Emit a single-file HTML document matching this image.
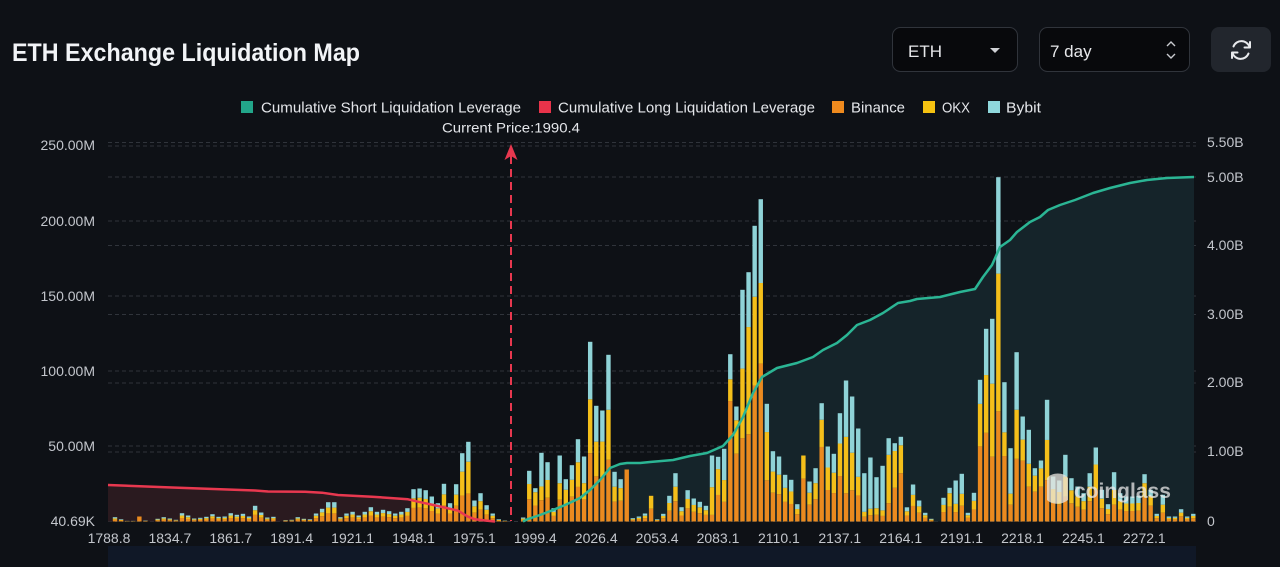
<!DOCTYPE html>
<html><head><meta charset="utf-8">
<style>
html,body{margin:0;padding:0;background:#0e1116;width:1280px;height:567px;overflow:hidden;}
svg{display:block;font-family:"Liberation Sans",sans-serif;}
</style></head><body>
<svg id="s" xmlns="http://www.w3.org/2000/svg" width="1280" height="567" viewBox="0 0 1280 567">
<rect width="1280" height="567" fill="#0e1116"/>
<!-- title -->
<text x="12" y="61" font-size="25" font-weight="bold" fill="#f2f4f7" textLength="348" lengthAdjust="spacingAndGlyphs">ETH Exchange Liquidation Map</text>
<!-- controls -->
<rect x="892.5" y="27.5" width="125" height="44" rx="8" fill="#08090c" stroke="#30343b"/>
<text x="908" y="57" font-size="17" fill="#e6e7ea">ETH</text>
<path d="M990,48 L1000,48 L995,53 Z" fill="#d0d2d6"/>
<rect x="1039.5" y="27.5" width="150" height="44" rx="8" fill="#08090c" stroke="#30343b"/>
<text x="1050" y="57" font-size="17" fill="#e6e7ea">7 day</text>
<path d="M1167,46 L1171,42 L1175,46 M1167,54 L1171,58 L1175,54" fill="none" stroke="#c8cacf" stroke-width="1.4"/>
<rect x="1211" y="27" width="60" height="45" rx="8" fill="#22262d"/>
<g fill="none" stroke="#e8e9ec" stroke-width="2" stroke-linecap="round" stroke-linejoin="round">
<path d="M1249.5,47 A8.5,8.5 0 0 0 1233.5,46.5"/>
<path d="M1232.5,53 A8.5,8.5 0 0 0 1248.5,53.5"/>
<path d="M1250,42 L1250,47.5 L1244.5,47.5"/>
<path d="M1232,58 L1232,52.5 L1237.5,52.5"/>
</g>
<!-- legend -->
<g font-size="15" fill="#e4e6ea">
<rect x="241" y="101" width="12" height="12" fill="#22a68a"/>
<text x="261" y="112.5" textLength="260" lengthAdjust="spacingAndGlyphs">Cumulative Short Liquidation Leverage</text>
<rect x="539" y="101" width="12" height="12" fill="#e8334a"/>
<text x="558" y="112.5" textLength="257" lengthAdjust="spacingAndGlyphs">Cumulative Long Liquidation Leverage</text>
<rect x="832" y="101" width="12" height="12" fill="#ee8a1e"/>
<text x="851" y="112.5" textLength="54" lengthAdjust="spacingAndGlyphs">Binance</text>
<rect x="923" y="101" width="12" height="12" fill="#f5c211"/>
<text x="942" y="112.5" textLength="28" lengthAdjust="spacingAndGlyphs">OKX</text>
<rect x="988" y="101" width="12" height="12" fill="#8fd8dc"/>
<text x="1006" y="112.5" textLength="35" lengthAdjust="spacingAndGlyphs">Bybit</text>
</g>
<text x="442" y="132.5" font-size="14" fill="#e4e6ea" textLength="138" lengthAdjust="spacingAndGlyphs">Current Price:1990.4</text>
<!-- grid -->
<g stroke="#30343b" stroke-width="1" stroke-dasharray="4 3" fill="none">
<line x1="108" y1="146" x2="1196" y2="146"/>
<line x1="108" y1="221" x2="1196" y2="221"/>
<line x1="108" y1="296" x2="1196" y2="296"/>
<line x1="108" y1="371" x2="1196" y2="371"/>
<line x1="108" y1="446" x2="1196" y2="446"/>
<line x1="108" y1="142.5" x2="1196" y2="142.5"/>
<line x1="108" y1="177" x2="1196" y2="177"/>
<line x1="108" y1="245.5" x2="1196" y2="245.5"/>
<line x1="108" y1="314.5" x2="1196" y2="314.5"/>
<line x1="108" y1="383" x2="1196" y2="383"/>
<line x1="108" y1="452" x2="1196" y2="452"/>
<line x1="108" y1="521.5" x2="1196" y2="521.5"/>
</g>
<!-- y labels left -->
<g font-size="14" fill="#c3c6cc" text-anchor="end">
<text x="95" y="150">250.00M</text>
<text x="95" y="226">200.00M</text>
<text x="95" y="301">150.00M</text>
<text x="95" y="376">100.00M</text>
<text x="95" y="451">50.00M</text>
<text x="95" y="526">40.69K</text>
</g>
<g font-size="14" fill="#c3c6cc">
<text x="1207" y="147">5.50B</text>
<text x="1207" y="182">5.00B</text>
<text x="1207" y="250">4.00B</text>
<text x="1207" y="319">3.00B</text>
<text x="1207" y="387">2.00B</text>
<text x="1207" y="456">1.00B</text>
<text x="1207" y="526">0</text>
</g>
<!-- fills -->
<path fill="#2a1a1f" d="M108,521.5 L108,485 L172,487.5 L255,490.5 L268,491.5 L305,491.7 L322,492.7 L338,495 L372,496.7 L408,499.3 L418,501.7 L438,506 L458,510.7 L468,516.7 L475,519.3 L485,520.5 L495,521.5 Z"/>
<path fill="#15242a" d="M523,521.5 L528,519 L540,515 L553,510 L565,505 L580,498 L590,490 L600,480 L610,468 L620,464 L627,463 L640,463 L650,462 L673,460 L690,456 L707,453 L723,446 L733,435 L743,417 L753,393 L762,377 L777,368 L797,363 L813,357 L823,350 L837,343 L847,335 L857,325 L870,320 L883,313 L898,303 L910,301 L917,299 L940,297 L960,292 L975,289 L983,277 L992,265 L1000,247 L1010,240 L1017,232 L1030,222 L1040,217 L1048,210 L1060,205 L1075,200 L1093,193 L1110,188 L1130,183 L1147,180 L1167,178 L1194,177 L1194,521.5 Z"/>
<g id="bars"></g>
<!-- lines -->
<polyline fill="none" stroke="#e8384f" stroke-width="2.5" stroke-linejoin="round" points="108,485 172,487.5 255,490.5 268,491.5 305,491.7 322,492.7 338,495 372,496.7 408,499.3 418,501.7 438,506 458,510.7 468,516.7 475,519.3 485,520.5 495,521.5"/>
<polyline fill="none" stroke="#2bb594" stroke-width="2.5" stroke-linejoin="round" points="523,521.5 528,519 540,515 553,510 565,505 580,498 590,490 600,480 610,468 620,464 627,463 640,463 650,462 673,460 690,456 707,453 723,446 733,435 743,417 753,393 762,377 777,368 797,363 813,357 823,350 837,343 847,335 857,325 870,320 883,313 898,303 910,301 917,299 940,297 960,292 975,289 983,277 992,265 1000,247 1010,240 1017,232 1030,222 1040,217 1048,210 1060,205 1075,200 1093,193 1110,188 1130,183 1147,180 1167,178 1194,177"/>
<!-- current price marker -->
<line x1="511" y1="156" x2="511" y2="521" stroke="#e8384f" stroke-width="2" stroke-dasharray="8 5"/>
<path d="M511,144 L517.5,160 L511,156 L504.5,160 Z" fill="#e8384f"/>
<!-- watermark -->
<g opacity="0.75">
<path d="M1047,478 C1052,472 1064,472 1068,478 L1068,500 C1062,505 1052,505 1047,500 Z" fill="#e9e6e0"/>
<text x="1074" y="498" font-size="21" font-weight="bold" fill="#e9e9e9">coinglass</text>
</g>
<!-- x labels -->
<g font-size="14" fill="#c3c6cc" text-anchor="middle">
<text x="109" y="543">1788.8</text>
<text x="169.9" y="543">1834.7</text>
<text x="230.8" y="543">1861.7</text>
<text x="291.7" y="543">1891.4</text>
<text x="352.6" y="543">1921.1</text>
<text x="413.5" y="543">1948.1</text>
<text x="474.4" y="543">1975.1</text>
<text x="535.3" y="543">1999.4</text>
<text x="596.2" y="543">2026.4</text>
<text x="657.1" y="543">2053.4</text>
<text x="718" y="543">2083.1</text>
<text x="778.9" y="543">2110.1</text>
<text x="839.8" y="543">2137.1</text>
<text x="900.7" y="543">2164.1</text>
<text x="961.6" y="543">2191.1</text>
<text x="1022.5" y="543">2218.1</text>
<text x="1083.4" y="543">2245.1</text>
<text x="1144.3" y="543">2272.1</text>
</g>
<!-- slider -->
<rect x="108" y="546" width="1088" height="21" fill="#101827"/>
</svg>
<script>
(function(){
var H=[4.3,2.3,0.6,0.6,5,1,0,2.7,4.3,3,1.7,8.3,6,3,3.7,4.7,7.3,4.7,5,8.3,6.7,7.7,5,15.7,9,4,4.7,0,1.3,1.7,
4.3,2.7,2.3,8,12.7,19.3,19.3,4.3,8,9.7,6,9.7,14.3,9.7,11.7,10.3,8,9.7,13.3,32.3,33,31.3,25,18.3,37.7,18.3,37.3,68.3,79.7,21,
28.3,16.3,8,2.3,1,0,0,4,50.7,33.3,68.7,59.3,13.3,66,42.3,56.3,82.3,65,179.7,115.7,111,166.7,49.7,42.3,52,3.3,5,8,25.7,2.3,
7.7,25.7,48.3,14.3,31.3,23,19.7,15.7,66,64.7,72.7,167.3,115,231.7,249.3,295.7,322.3,117.7,70.3,65,46.7,41.7,17.3,66,40,53.3,118.3,75,67.7,108.3,
141,125,93,48.3,64,44.3,55.7,83.3,78.3,84.7,14.2,37,21,8.7,2.7,0,23.7,33.7,41,47.7,8.7,28.7,141.7,192.7,202.7,344.3,139.3,73.3,169.3,105,
91.7,53.3,61,121.7,45,41,66.7,43.3,35,28.3,48.3,74,31.7,17.3,49.3,28.3,25,25,25.7,47.3,31.7,7.7,26.7,5,5,12.3,5,7.7];
var S={4:[0,0],57:[.27,.35],58:[.25,.4],68:[.26,.3],69:[.12,.4],70:[.49,.2],71:[.3,.3],73:[.42,.25],74:[.25,.35],75:[.26,.3],77:[.41,.25],
78:[.32,.3],79:[.31,.3],80:[.28,.32],81:[.33,.3],82:[.3,.3],83:[.21,.3],84:[0,0],88:[0,.5],98:[.48,.42],99:[.19,.4],100:[.43,.3],
101:[.15,.13],102:[.12,.29],103:[.34,.3],104:[.22,.43],105:[.24,.3],106:[.26,.25],107:[.24,.41],108:[.29,.3],113:[0,.35],116:[.14,.23],
120:[.4,.4],121:[.45,.3],122:[.52,.2],123:[.8,.1],124:[.8,.1],125:[.7,.15],126:[.8,.1],127:[.2,.58],128:[.1,.47],129:[.1,.33],
136:[.3,.3],137:[.16,.4],138:[.57,.2],139:[.42,.25],142:[.17,.3],143:[.24,.3],144:[.32,.36],145:[.28,.4],146:[.36,.17],147:[.62,.15],
148:[.34,.29],149:[.22,.2],150:[.37,.25],151:[.14,.3],152:[.13,.3],153:[.33,.33],156:[.33,.3],161:[.23,.34],164:[.36,.3],169:[.19,.3],170:[.2,.3],172:[.37,.3]};
var g=document.getElementById('bars'),NS='http://www.w3.org/2000/svg',B=521.5;
function r(x,y,h,c){if(h<=0)return;var e=document.createElementNS(NS,'rect');e.setAttribute('x',x);e.setAttribute('y',y);e.setAttribute('width',4.4);e.setAttribute('height',h);e.setAttribute('fill',c);g.appendChild(e);}
for(var k=0;k<H.length;k++){var h=H[k];if(h<=0)continue;var c=115+k*6.092,x=c-2.2;var f=S[k]||[.28,.3];
var by=h*f[0],ok=h*f[1],bn=h-by-ok,y=B;
r(x,y-bn,bn,'#ea8a1f');y-=bn;r(x,y-ok,ok,'#f4bf1a');y-=ok;r(x,y-by,by,'#8fd3d7');}
})();
</script>
</body></html>
